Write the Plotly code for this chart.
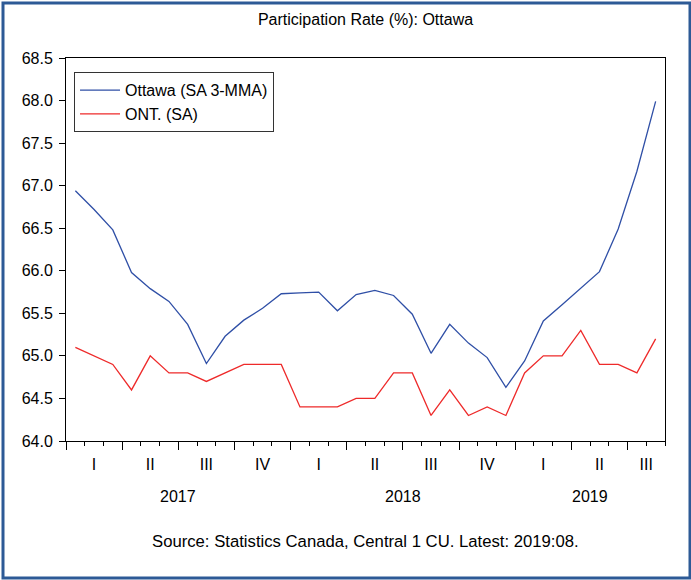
import pandas as pd
import plotly.graph_objects as go

# monthly observations, Jan 2017 - Aug 2019
months = [str(p) for p in pd.period_range("2017-01", "2019-08", freq="M")]

ottawa = [
    66.94, 66.72, 66.48, 65.98, 65.79, 65.64, 65.37, 64.91, 65.23, 65.42,
    65.56, 65.73, 65.74, 65.75, 65.53, 65.72, 65.77, 65.71, 65.49, 65.03,
    65.37, 65.15, 64.98, 64.63, 64.94, 65.41, 65.60, 65.79, 65.99, 66.49,
    67.17, 67.99,
]
ontario = [
    65.1, 65.0, 64.9, 64.6, 65.0, 64.8, 64.8, 64.7, 64.8, 64.9,
    64.9, 64.9, 64.4, 64.4, 64.4, 64.5, 64.5, 64.8, 64.8, 64.3,
    64.6, 64.3, 64.4, 64.3, 64.8, 65.0, 65.0, 65.3, 64.9, 64.9,
    64.8, 65.2,
]
quarter_names = ["I", "II", "III", "IV"]

FONT = "Liberation Sans, Arial, sans-serif"

# place each month in the middle of its slot on a numeric axis
x_pos = [i + 0.5 for i in range(len(months))]
periods = pd.PeriodIndex(months, freq="M")

quarter_centers, quarter_text = [], []
for q in periods.asfreq("Q").unique():
    idx = [x for x, p in zip(x_pos, periods) if p.asfreq("Q") == q]
    quarter_centers.append(sum(idx) / len(idx))
    quarter_text.append(quarter_names[q.quarter - 1])

year_centers = {}
for x, p in zip(x_pos, periods):
    year_centers.setdefault(p.year, []).append(x)

fig = go.Figure()

fig.add_trace(
    go.Scatter(
        x=x_pos,
        y=ottawa,
        mode="lines",
        name="Ottawa (SA 3-MMA)",
        line={"color": "#2f4fa6", "width": 1.3},
    )
)
fig.add_trace(
    go.Scatter(
        x=x_pos,
        y=ontario,
        mode="lines",
        name="ONT. (SA)",
        line={"color": "#ee2a2a", "width": 1.3},
    )
)
# invisible trace to carry the quarter labels on a second x axis
fig.add_trace(
    go.Scatter(x=[], y=[], xaxis="x2", showlegend=False, hoverinfo="skip")
)

n = len(months)
fig.update_layout(
    width=691,
    height=580,
    margin={"l": 66, "r": 26, "t": 58, "b": 139},
    paper_bgcolor="white",
    plot_bgcolor="white",
    font={"family": FONT, "size": 16, "color": "black"},
    title={
        "text": "Participation Rate (%): Ottawa",
        "x": 0.5,
        "xref": "paper",
        "y": 1 - 19 / 580,
        "yanchor": "middle",
        "font": {"size": 16},
    },
    showlegend=True,
    legend={
        "x": 0.0134,
        "y": 0.963,
        "xanchor": "left",
        "yanchor": "top",
        "bordercolor": "#333333",
        "borderwidth": 1,
        "bgcolor": "white",
        "font": {"size": 16},
        "tracegroupgap": 0,
        "itemwidth": 40,
    },
    xaxis={
        "range": [0, n],
        "showgrid": False,
        "zeroline": False,
        "showline": True,
        "linecolor": "black",
        "linewidth": 1,
        "mirror": True,
        "tickmode": "array",
        "tickvals": list(range(0, n + 1, 3)),
        "ticks": "outside",
        "ticklen": 8,
        "tickcolor": "black",
        "showticklabels": False,
        "minor": {
            "tickmode": "array",
            "tickvals": list(range(0, n + 1)),
            "ticks": "outside",
            "ticklen": 4,
            "tickcolor": "black",
        },
    },
    xaxis2={
        "overlaying": "x",
        "anchor": "y",
        "side": "bottom",
        "range": [0, n],
        "showgrid": False,
        "zeroline": False,
        "showline": False,
        "tickmode": "array",
        "tickvals": quarter_centers,
        "ticktext": quarter_text,
        "ticks": "outside",
        "ticklen": 9,
        "tickcolor": "rgba(0,0,0,0)",
        "tickfont": {"size": 16},
    },
    yaxis={
        "range": [64.0, 68.5],
        "showgrid": False,
        "zeroline": False,
        "showline": True,
        "linecolor": "black",
        "linewidth": 1,
        "mirror": True,
        "tickmode": "linear",
        "tick0": 64.0,
        "dtick": 0.5,
        "tickformat": ".1f",
        "ticks": "outside",
        "ticklen": 6,
        "ticklabelstandoff": 3,
        "tickcolor": "black",
        "tickfont": {"size": 16},
    },
)

for year, xs in year_centers.items():
    fig.add_annotation(
        x=sum(xs) / len(xs),
        y=(441 - 496) / 383,
        xref="x",
        yref="paper",
        text=str(year),
        showarrow=False,
        yanchor="middle",
        font={"size": 16},
    )

fig.add_annotation(
    x=0.5,
    y=(441 - 541) / 383,
    xref="paper",
    yref="paper",
    text="Source: Statistics Canada, Central 1 CU. Latest: 2019:08.",
    showarrow=False,
    yanchor="middle",
    font={"size": 16.7},
)

# outer blue frame
fig.add_shape(
    type="rect",
    xref="paper",
    yref="paper",
    x0=(3 - 66) / 599,
    x1=(690 - 66) / 599,
    y0=(441 - 578) / 383,
    y1=(441 - 3) / 383,
    line={"color": "#2d5a96", "width": 3},
    fillcolor="rgba(0,0,0,0)",
    layer="below",
)

# drop the default page margin so the figure fills the window
fig.write_html(
    "out.html",
    config={"displayModeBar": False},
    post_script="document.body.style.margin='0';",
)
